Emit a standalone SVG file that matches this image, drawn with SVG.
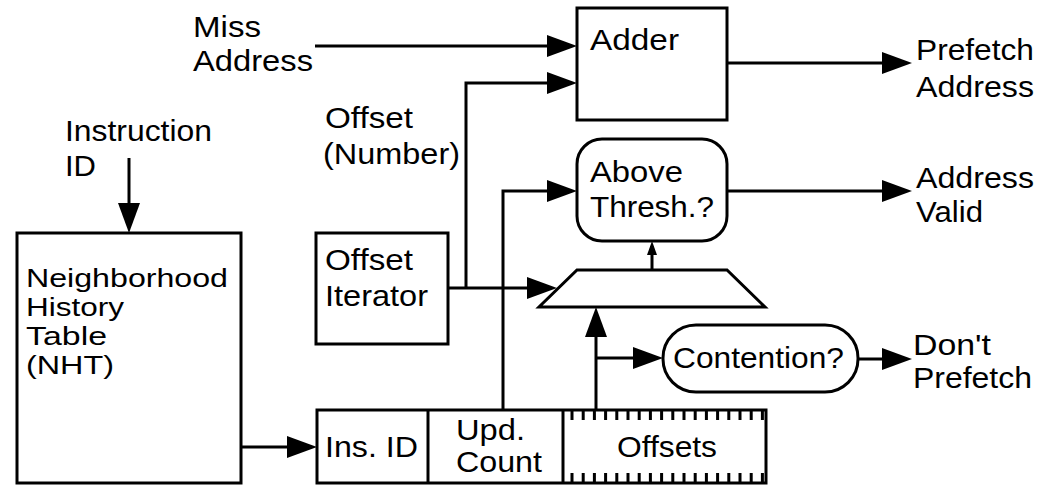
<svg xmlns="http://www.w3.org/2000/svg" width="1040" height="485" viewBox="0 0 1040 485">
  <style>
    .box { fill: #fff; stroke: #000; stroke-width: 3; }
    .wire { fill: none; stroke: #000; stroke-width: 3; }
    .tick { stroke: #000; stroke-width: 3; }
    text { font-family: "Liberation Sans", Arial, sans-serif; font-size: 30px; fill: #000; }
    .small { font-size: 26px; }
  </style>
  <defs>
    <marker id="arrow" viewBox="0 0 30 22" refX="20" refY="11" markerWidth="30" markerHeight="22" markerUnits="userSpaceOnUse" orient="auto">
      <path d="M0,0 L30,11 L0,22 z" fill="#000"/>
    </marker>
    <marker id="arrow-small" viewBox="0 0 14 10" refX="9" refY="5" markerWidth="14" markerHeight="10" markerUnits="userSpaceOnUse" orient="auto">
      <path d="M0,0 L14,5 L0,10 z" fill="#000"/>
    </marker>
  </defs>
  <rect width="1040" height="485" fill="#fff"/>

  <!-- free-standing signal labels -->
  <g id="labels">
    <text x="193" y="37" textLength="68" lengthAdjust="spacingAndGlyphs">Miss</text>
    <text x="193" y="71" textLength="120" lengthAdjust="spacingAndGlyphs">Address</text>
    <text x="65" y="141" textLength="147" lengthAdjust="spacingAndGlyphs">Instruction</text>
    <text x="65" y="176" textLength="31" lengthAdjust="spacingAndGlyphs">ID</text>
    <text x="325" y="128" textLength="88" lengthAdjust="spacingAndGlyphs">Offset</text>
    <text x="323" y="164" textLength="137" lengthAdjust="spacingAndGlyphs">(Number)</text>
    <text x="916" y="60" textLength="118" lengthAdjust="spacingAndGlyphs">Prefetch</text>
    <text x="916" y="97" textLength="118" lengthAdjust="spacingAndGlyphs">Address</text>
    <text x="916" y="188" textLength="118" lengthAdjust="spacingAndGlyphs">Address</text>
    <text x="916" y="222" textLength="67" lengthAdjust="spacingAndGlyphs">Valid</text>
    <text x="913" y="355" textLength="78" lengthAdjust="spacingAndGlyphs">Don't</text>
    <text x="913" y="388" textLength="119" lengthAdjust="spacingAndGlyphs">Prefetch</text>
  </g>

  <!-- connectors -->
  <g id="connectors">
    <path class="wire" d="M315,46 H567" marker-end="url(#arrow)"/>
    <path class="wire" d="M466,288 V83 H567" marker-end="url(#arrow)"/>
    <path class="wire" d="M448,288 H547" marker-end="url(#arrow)"/>
    <path class="wire" d="M727,63 H902" marker-end="url(#arrow)"/>
    <path class="wire" d="M503,410 V191 H567" marker-end="url(#arrow)"/>
    <path class="wire" d="M727,191 H902" marker-end="url(#arrow)"/>
    <path class="wire" d="M652,270 V246" marker-end="url(#arrow-small)"/>
    <path class="wire" d="M596,410 V317" marker-end="url(#arrow)"/>
    <path class="wire" d="M596,358 H653" marker-end="url(#arrow)"/>
    <path class="wire" d="M858,359 H902" marker-end="url(#arrow)"/>
    <path class="wire" d="M129,158 V223" marker-end="url(#arrow)"/>
    <path class="wire" d="M241,447 H307" marker-end="url(#arrow)"/>
  </g>

  <g id="adder">
    <rect class="box" x="577" y="8" width="150" height="112"/>
    <text x="590" y="50" textLength="89" lengthAdjust="spacingAndGlyphs">Adder</text>
  </g>

  <g id="above-thresh">
    <rect class="box" x="577" y="139" width="150" height="102" rx="25" ry="25"/>
    <text x="590" y="182" textLength="93" lengthAdjust="spacingAndGlyphs">Above</text>
    <text x="590" y="217" textLength="124" lengthAdjust="spacingAndGlyphs">Thresh.?</text>
  </g>

  <g id="mux">
    <polygon class="box" points="577,270 727,270 765,307 539,307"/>
  </g>

  <g id="contention">
    <rect class="box" x="663" y="325" width="195" height="67" rx="33" ry="33"/>
    <text x="673" y="368" textLength="171" lengthAdjust="spacingAndGlyphs">Contention?</text>
  </g>

  <g id="offset-iterator">
    <rect class="box" x="316" y="233" width="132" height="111"/>
    <text x="325" y="270" textLength="88" lengthAdjust="spacingAndGlyphs">Offset</text>
    <text x="325" y="306" textLength="103" lengthAdjust="spacingAndGlyphs">Iterator</text>
  </g>

  <g id="nht">
    <rect class="box" x="17" y="233" width="224" height="250"/>
    <text class="small" x="26" y="287" textLength="202" lengthAdjust="spacingAndGlyphs">Neighborhood</text>
    <text class="small" x="26" y="316" textLength="98" lengthAdjust="spacingAndGlyphs">History</text>
    <text class="small" x="26" y="345" textLength="81" lengthAdjust="spacingAndGlyphs">Table</text>
    <text class="small" x="26" y="374" textLength="88" lengthAdjust="spacingAndGlyphs">(NHT)</text>
  </g>

  <g id="entry">
    <rect class="box" x="317" y="410" width="449" height="73"/>
    <line class="wire" x1="428" y1="410" x2="428" y2="483"/>
    <line class="wire" x1="563" y1="410" x2="563" y2="483"/>
    <path class="tick" d="M572,410 v10 M583.2,410 v10 M594.4,410 v10 M605.6,410 v10 M616.8,410 v10 M628,410 v10 M639.2,410 v10 M650.4,410 v10 M661.6,410 v10 M672.8,410 v10 M684,410 v10 M695.2,410 v10 M706.4,410 v10 M717.6,410 v10 M728.8,410 v10 M740,410 v10 M751.2,410 v10 M762.4,410 v10"/>
    <path class="tick" d="M572,473 v10 M583.2,473 v10 M594.4,473 v10 M605.6,473 v10 M616.8,473 v10 M628,473 v10 M639.2,473 v10 M650.4,473 v10 M661.6,473 v10 M672.8,473 v10 M684,473 v10 M695.2,473 v10 M706.4,473 v10 M717.6,473 v10 M728.8,473 v10 M740,473 v10 M751.2,473 v10 M762.4,473 v10"/>
    <text x="325" y="457" textLength="93" lengthAdjust="spacingAndGlyphs">Ins. ID</text>
    <text x="456" y="440" textLength="69" lengthAdjust="spacingAndGlyphs">Upd.</text>
    <text x="456" y="472" textLength="86" lengthAdjust="spacingAndGlyphs">Count</text>
    <text x="617" y="457" textLength="100" lengthAdjust="spacingAndGlyphs">Offsets</text>
  </g>
</svg>
